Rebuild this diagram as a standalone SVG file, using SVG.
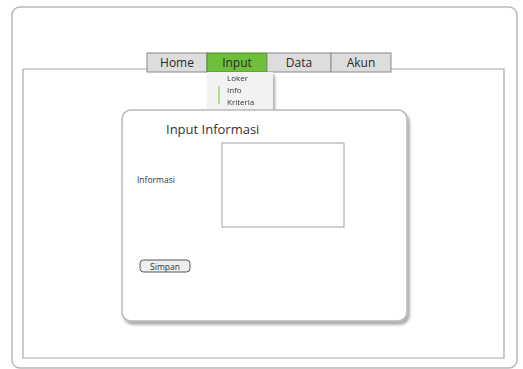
<svg xmlns="http://www.w3.org/2000/svg" width="523" height="369" viewBox="0 0 523 369">
  <defs>
    <filter id="shadow" x="-10%" y="-10%" width="130%" height="130%">
      <feGaussianBlur in="SourceAlpha" stdDeviation="1.5"/>
      <feOffset dx="2" dy="3"/>
      <feComponentTransfer><feFuncA type="linear" slope="0.35"/></feComponentTransfer>
      <feMerge><feMergeNode/><feMergeNode in="SourceGraphic"/></feMerge>
    </filter>
  </defs>
  <style>
    .frame { fill: #ffffff; stroke: #b8b8b8; stroke-width: 1.5; }
    .line { stroke: #a8a8a8; stroke-width: 1.2; fill: none; }
    .tab { fill: #dddddd; stroke: #8a8a8a; stroke-width: 1; }
    .tab-active { fill: #6fbf3c; stroke: #4f8f2a; stroke-width: 1; }
    .tab-text { font-family: "Open Sans", "Liberation Sans", sans-serif; font-size: 12px; fill: #2a2a2a; text-anchor: middle; }
    .menu-text { font-family: "Open Sans", "Liberation Sans", sans-serif; font-size: 8px; fill: #333333; }
    .label { font-family: "Open Sans", "Liberation Sans", sans-serif; fill: #333333; }
    .box { fill: #ffffff; stroke: #a0a0a0; stroke-width: 1; }
  </style>

  <!-- window frame -->
  <rect class="frame" x="12" y="7" width="505" height="361" rx="8"/>

  <!-- page area below navigation bar -->
  <path class="line" d="M23 69 H147 M391 69 H504 V358 H23 V69"/>

  <!-- navigation tabs -->
  <g id="tab-home">
    <rect class="tab" x="147" y="53" width="60" height="19"/>
    <text class="tab-text" x="177" y="67">Home</text>
  </g>
  <g id="tab-input">
    <rect class="tab-active" x="207" y="53" width="60" height="19"/>
    <text class="tab-text" x="237" y="67">Input</text>
  </g>
  <g id="tab-data">
    <rect class="tab" x="267" y="53" width="64" height="19"/>
    <text class="tab-text" x="299" y="67">Data</text>
  </g>
  <g id="tab-akun">
    <rect class="tab" x="331" y="53" width="60" height="19"/>
    <text class="tab-text" x="361" y="67">Akun</text>
  </g>

  <!-- dropdown menu of the Input tab -->
  <g id="menu-input" filter="url(#shadow)">
    <rect x="207" y="72" width="66" height="38" fill="#f2f2f2"/>
    <line x1="219" y1="86" x2="219" y2="104" stroke="#9fcf7a" stroke-width="1.5"/>
    <text class="menu-text" x="227" y="81">Loker</text>
    <text class="menu-text" x="227" y="93">Info</text>
    <text class="menu-text" x="227" y="105">Kriteria</text>
  </g>

  <!-- form panel -->
  <g id="panel" filter="url(#shadow)">
    <rect class="frame" x="122" y="110" width="285" height="211" rx="9" stroke="#9a9a9a" stroke-width="1"/>
  </g>
  <g id="title">
    <text class="label" x="166" y="134" font-size="13">Input Informasi</text>
  </g>
  <g id="field-informasi">
    <text class="label" x="137" y="183" font-size="8.5">Informasi</text>
    <rect class="box" x="222" y="143" width="122" height="84"/>
  </g>
  <g id="button-simpan">
    <rect x="140" y="260" width="50" height="12" rx="3.5" fill="#eeeeee" stroke="#555555" stroke-width="1"/>
    <text class="label" x="165" y="269.5" font-size="8.5" text-anchor="middle">Simpan</text>
  </g>
</svg>
